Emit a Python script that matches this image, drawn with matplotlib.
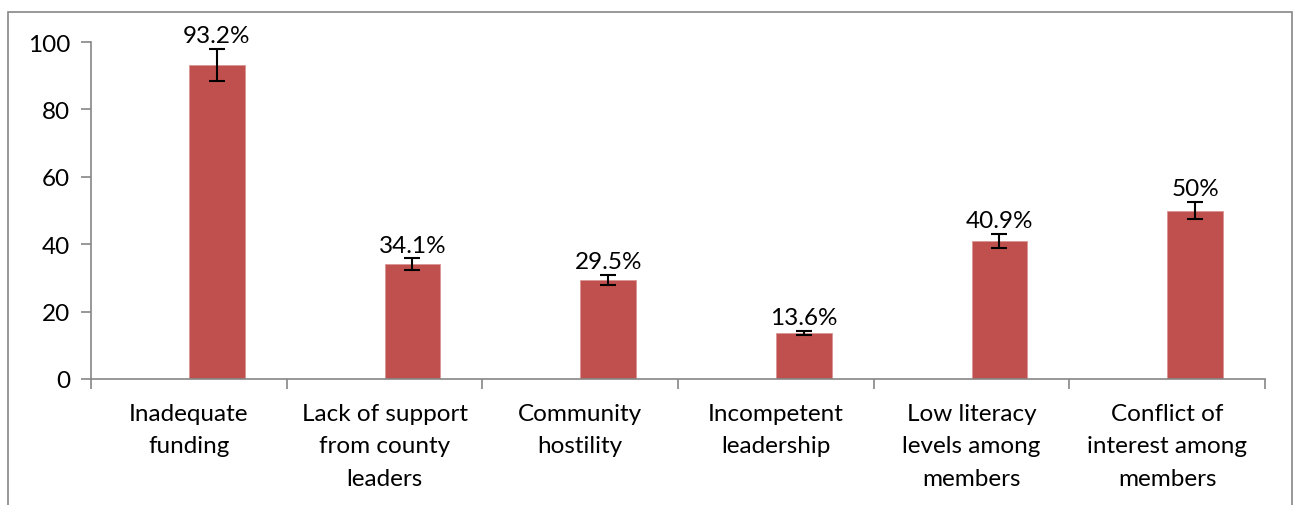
import matplotlib.pyplot as plt
import numpy as np
from matplotlib.patches import Rectangle

categories = [
    "Inadequate\nfunding",
    "Lack of support\nfrom county\nleaders",
    "Community\nhostility",
    "Incompetent\nleadership",
    "Low literacy\nlevels among\nmembers",
    "Conflict of\ninterest among\nmembers",
]
values = [93.2, 34.1, 29.5, 13.6, 40.9, 50.0]
labels = ["93.2%", "34.1%", "29.5%", "13.6%", "40.9%", "50%"]
err_pct = 0.05  # 5% error bars

plt.rcParams['font.family'] = ['Lato', 'DejaVu Sans']
fs = 17.5

fig = plt.figure(figsize=(12.98, 5.06), dpi=100)
ax = fig.add_axes([91 / 1298, 1 - 380 / 506, (1265 - 91) / 1298, (380 - 43) / 506])

# outer chart border (cut at bottom)
fig.patches.append(Rectangle((8 / 1298, -0.05), (1292 - 8) / 1298, 1.05 - 13 / 506,
                             transform=fig.transFigure, fill=False,
                             edgecolor="#868686", linewidth=1.2))

x = np.arange(len(values))
xb = x + 0.143  # bars sit a bit right of category centre
errs = [v * err_pct for v in values]
ax.bar(xb, values, width=0.285, color="#C0504D", edgecolor="#D99694", linewidth=0.6, zorder=2)
ax.errorbar(xb, values, yerr=errs, fmt="none", ecolor="black", elinewidth=1.5,
            capsize=6, capthick=1.5, zorder=3)

for xi, v, e, lab in zip(xb, values, errs, labels):
    ax.annotate(lab, (xi, v + e), xytext=(0, 2), textcoords="offset points",
                ha="center", va="bottom", fontsize=fs)

ax.set_xlim(-0.5, len(values) - 0.5)
ax.set_ylim(0, 100)
ax.set_yticks([0, 20, 40, 60, 80, 100])
ax.set_xticks(x)
ax.set_xticklabels(categories, fontsize=fs, linespacing=1.68)
ax.set_xticks(np.arange(-0.5, len(values)), minor=True)
ax.tick_params(axis="x", which="major", length=0, pad=17)
ax.tick_params(axis="x", which="minor", length=7, color="#868686", width=1.2)
ax.tick_params(axis="y", length=7, color="#868686", width=1.2, labelsize=fs, pad=8)

for s in ["top", "right"]:
    ax.spines[s].set_visible(False)
for s in ["left", "bottom"]:
    ax.spines[s].set_color("#868686")
    ax.spines[s].set_linewidth(1.2)

fig.savefig("out.png", dpi=100)
